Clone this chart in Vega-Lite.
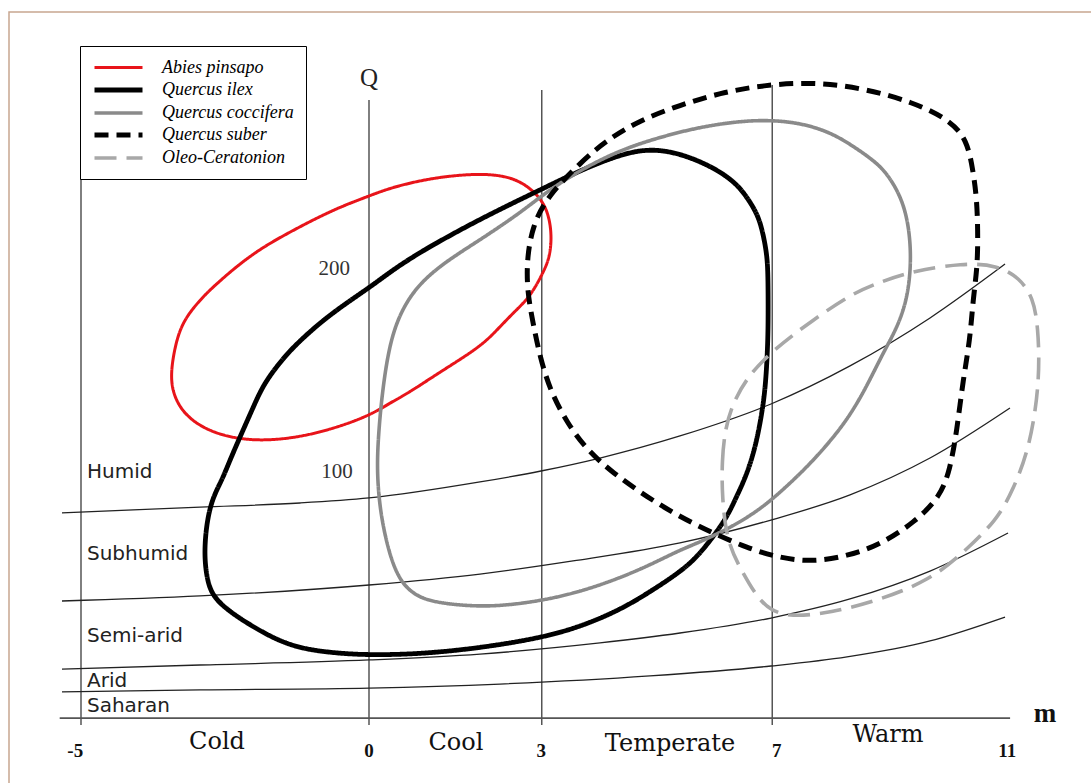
{
  "$schema": "https://vega.github.io/schema/vega-lite/v6.json",
  "width": 1091,
  "height": 783,
  "autosize": "none",
  "padding": 0,
  "background": "white",
  "config": {"view": {"stroke": null}},
  "datasets": {
    "frame": [{"m": -6.25, "m2": 13, "q": 326.2, "q2": -60}],
    "verticals": [
      {"m": -5, "q": 287.7, "q2": -25.9},
      {"m": 0, "q": 282.7, "q2": -25.9},
      {"m": 3, "q": 287.7, "q2": -25.9},
      {"m": 7, "q": 290.1, "q2": -25.9}
    ],
    "baseline": [{"m": -5.37, "m2": 11.13, "q": -22.5}],
    "zones": [
      {"zone": "humid", "m": -5.33, "q": 78.8}, {"zone": "humid", "m": -2.934, "q": 81.7}, {"zone": "humid", "m": -1.198, "q": 83.7}, {"zone": "humid", "m": 0, "q": 86.2}, {"zone": "humid", "m": 1.927, "q": 94.1}, {"zone": "humid", "m": 2.986, "q": 99.5}, {"zone": "humid", "m": 4.01, "q": 105.9}, {"zone": "humid", "m": 5.399, "q": 116.8}, {"zone": "humid", "m": 6.979, "q": 132.6}, {"zone": "humid", "m": 8.351, "q": 151.4}, {"zone": "humid", "m": 9.74, "q": 175.1}, {"zone": "humid", "m": 11.042, "q": 201.7},
      {"zone": "subhumid", "m": -5.33, "q": 35.3}, {"zone": "subhumid", "m": -2.934, "q": 37.8}, {"zone": "subhumid", "m": 0, "q": 43.2}, {"zone": "subhumid", "m": 1.927, "q": 48.6}, {"zone": "subhumid", "m": 3.542, "q": 55.1}, {"zone": "subhumid", "m": 5.399, "q": 64.0}, {"zone": "subhumid", "m": 6.979, "q": 75.3}, {"zone": "subhumid", "m": 8.351, "q": 87.7}, {"zone": "subhumid", "m": 9.74, "q": 105.9}, {"zone": "subhumid", "m": 11.128, "q": 130.6},
      {"zone": "semiarid", "m": -5.33, "q": 1.7}, {"zone": "semiarid", "m": -2.934, "q": 3.7}, {"zone": "semiarid", "m": 0, "q": 6.2}, {"zone": "semiarid", "m": 1.927, "q": 9.1}, {"zone": "semiarid", "m": 4.01, "q": 14.6}, {"zone": "semiarid", "m": 5.399, "q": 19.5}, {"zone": "semiarid", "m": 6.979, "q": 26.9}, {"zone": "semiarid", "m": 8.351, "q": 36.3}, {"zone": "semiarid", "m": 9.74, "q": 50.1}, {"zone": "semiarid", "m": 11.094, "q": 68.9},
      {"zone": "arid", "m": -5.33, "q": -9.6}, {"zone": "arid", "m": -2.934, "q": -8.6}, {"zone": "arid", "m": 0, "q": -7.7}, {"zone": "arid", "m": 2.274, "q": -5.7}, {"zone": "arid", "m": 4.878, "q": -1.7}, {"zone": "arid", "m": 6.979, "q": 3.2}, {"zone": "arid", "m": 8.299, "q": 7.7}, {"zone": "arid", "m": 9.74, "q": 15.6}, {"zone": "arid", "m": 11.042, "q": 27.4}
    ],
    "species": [
      {"sp": "Abies pinsapo", "i": 1, "m": -3.455, "q": 144.4}, {"sp": "Abies pinsapo", "i": 2, "m": -3.385, "q": 159.3}, {"sp": "Abies pinsapo", "i": 3, "m": -3.247, "q": 173.1}, {"sp": "Abies pinsapo", "i": 4, "m": -2.934, "q": 184.0}, {"sp": "Abies pinsapo", "i": 5, "m": -2.708, "q": 190.4}, {"sp": "Abies pinsapo", "i": 6, "m": -2.274, "q": 201.2}, {"sp": "Abies pinsapo", "i": 7, "m": -1.84, "q": 210.1}, {"sp": "Abies pinsapo", "i": 8, "m": -1.372, "q": 217.5}, {"sp": "Abies pinsapo", "i": 9, "m": -0.972, "q": 223.5}, {"sp": "Abies pinsapo", "i": 10, "m": -0.503, "q": 229.9}, {"sp": "Abies pinsapo", "i": 11, "m": 0, "q": 235.3}, {"sp": "Abies pinsapo", "i": 12, "m": 0.365, "q": 239.3}, {"sp": "Abies pinsapo", "i": 13, "m": 1.059, "q": 244.2}, {"sp": "Abies pinsapo", "i": 14, "m": 1.927, "q": 246.7}, {"sp": "Abies pinsapo", "i": 15, "m": 2.5, "q": 244.7}, {"sp": "Abies pinsapo", "i": 16, "m": 2.847, "q": 238.3}, {"sp": "Abies pinsapo", "i": 17, "m": 3.09, "q": 229.9}, {"sp": "Abies pinsapo", "i": 18, "m": 3.177, "q": 217.0}, {"sp": "Abies pinsapo", "i": 19, "m": 3.142, "q": 205.2}, {"sp": "Abies pinsapo", "i": 20, "m": 3.021, "q": 197.3}, {"sp": "Abies pinsapo", "i": 21, "m": 2.795, "q": 185.4}, {"sp": "Abies pinsapo", "i": 22, "m": 2.5, "q": 177.5}, {"sp": "Abies pinsapo", "i": 23, "m": 2.222, "q": 169.1}, {"sp": "Abies pinsapo", "i": 24, "m": 1.927, "q": 160.7}, {"sp": "Abies pinsapo", "i": 25, "m": 1.233, "q": 148.4}, {"sp": "Abies pinsapo", "i": 26, "m": 0.712, "q": 138.5}, {"sp": "Abies pinsapo", "i": 27, "m": 0.365, "q": 133.1}, {"sp": "Abies pinsapo", "i": 28, "m": 0, "q": 126.7}, {"sp": "Abies pinsapo", "i": 29, "m": -0.677, "q": 119.8}, {"sp": "Abies pinsapo", "i": 30, "m": -1.372, "q": 115.3}, {"sp": "Abies pinsapo", "i": 31, "m": -2.066, "q": 114.3}, {"sp": "Abies pinsapo", "i": 32, "m": -2.674, "q": 117.8}, {"sp": "Abies pinsapo", "i": 33, "m": -3.108, "q": 124.7}, {"sp": "Abies pinsapo", "i": 34, "m": -3.351, "q": 133.6},

      {"sp": "Quercus ilex", "i": 1, "m": -2.865, "q": 59.0}, {"sp": "Quercus ilex", "i": 2, "m": -2.813, "q": 75.3}, {"sp": "Quercus ilex", "i": 3, "m": -2.708, "q": 86.7}, {"sp": "Quercus ilex", "i": 4, "m": -2.552, "q": 95.1}, {"sp": "Quercus ilex", "i": 5, "m": -2.413, "q": 104.9}, {"sp": "Quercus ilex", "i": 6, "m": -2.24, "q": 116.3}, {"sp": "Quercus ilex", "i": 7, "m": -2.031, "q": 129.6}, {"sp": "Quercus ilex", "i": 8, "m": -1.84, "q": 142.0}, {"sp": "Quercus ilex", "i": 9, "m": -1.545, "q": 153.3}, {"sp": "Quercus ilex", "i": 10, "m": -1.25, "q": 162.7}, {"sp": "Quercus ilex", "i": 11, "m": -0.677, "q": 177.0}, {"sp": "Quercus ilex", "i": 12, "m": 0, "q": 189.9}, {"sp": "Quercus ilex", "i": 13, "m": 0.365, "q": 197.8}, {"sp": "Quercus ilex", "i": 14, "m": 0.885, "q": 207.7}, {"sp": "Quercus ilex", "i": 15, "m": 1.927, "q": 224.0}, {"sp": "Quercus ilex", "i": 16, "m": 2.969, "q": 238.3}, {"sp": "Quercus ilex", "i": 17, "m": 3.576, "q": 246.7}, {"sp": "Quercus ilex", "i": 18, "m": 4.236, "q": 254.6}, {"sp": "Quercus ilex", "i": 19, "m": 4.826, "q": 259.0}, {"sp": "Quercus ilex", "i": 20, "m": 5.399, "q": 256.5}, {"sp": "Quercus ilex", "i": 21, "m": 5.972, "q": 249.6}, {"sp": "Quercus ilex", "i": 22, "m": 6.354, "q": 242.2}, {"sp": "Quercus ilex", "i": 23, "m": 6.563, "q": 234.8}, {"sp": "Quercus ilex", "i": 24, "m": 6.753, "q": 225.9}, {"sp": "Quercus ilex", "i": 25, "m": 6.84, "q": 217.0}, {"sp": "Quercus ilex", "i": 26, "m": 6.91, "q": 206.2}, {"sp": "Quercus ilex", "i": 27, "m": 6.927, "q": 196.3}, {"sp": "Quercus ilex", "i": 28, "m": 6.93, "q": 180.2}, {"sp": "Quercus ilex", "i": 29, "m": 6.927, "q": 164.2}, {"sp": "Quercus ilex", "i": 30, "m": 6.892, "q": 144.4}, {"sp": "Quercus ilex", "i": 31, "m": 6.84, "q": 131.1}, {"sp": "Quercus ilex", "i": 32, "m": 6.736, "q": 114.8}, {"sp": "Quercus ilex", "i": 33, "m": 6.615, "q": 102.5}, {"sp": "Quercus ilex", "i": 34, "m": 6.493, "q": 93.6}, {"sp": "Quercus ilex", "i": 35, "m": 6.354, "q": 85.2}, {"sp": "Quercus ilex", "i": 36, "m": 6.215, "q": 76.8}, {"sp": "Quercus ilex", "i": 37, "m": 5.972, "q": 66.9}, {"sp": "Quercus ilex", "i": 38, "m": 5.694, "q": 57.0}, {"sp": "Quercus ilex", "i": 39, "m": 5.399, "q": 49.6}, {"sp": "Quercus ilex", "i": 40, "m": 4.878, "q": 39.8}, {"sp": "Quercus ilex", "i": 41, "m": 4.358, "q": 30.9}, {"sp": "Quercus ilex", "i": 42, "m": 3.663, "q": 22.5}, {"sp": "Quercus ilex", "i": 43, "m": 2.969, "q": 17.0}, {"sp": "Quercus ilex", "i": 44, "m": 1.927, "q": 12.1}, {"sp": "Quercus ilex", "i": 45, "m": 0.885, "q": 9.1}, {"sp": "Quercus ilex", "i": 46, "m": 0, "q": 8.6}, {"sp": "Quercus ilex", "i": 47, "m": -0.625, "q": 9.6}, {"sp": "Quercus ilex", "i": 48, "m": -1.372, "q": 12.6}, {"sp": "Quercus ilex", "i": 49, "m": -2.014, "q": 22.5}, {"sp": "Quercus ilex", "i": 50, "m": -2.413, "q": 29.9}, {"sp": "Quercus ilex", "i": 51, "m": -2.708, "q": 37.3}, {"sp": "Quercus ilex", "i": 52, "m": -2.813, "q": 45.7},

      {"sp": "Quercus coccifera", "i": 1, "m": 0.139, "q": 98.5}, {"sp": "Quercus coccifera", "i": 2, "m": 0.156, "q": 114.8}, {"sp": "Quercus coccifera", "i": 3, "m": 0.226, "q": 138.0}, {"sp": "Quercus coccifera", "i": 4, "m": 0.365, "q": 164.2}, {"sp": "Quercus coccifera", "i": 5, "m": 0.59, "q": 180.5}, {"sp": "Quercus coccifera", "i": 6, "m": 0.885, "q": 192.3}, {"sp": "Quercus coccifera", "i": 7, "m": 1.319, "q": 202.7}, {"sp": "Quercus coccifera", "i": 8, "m": 1.927, "q": 213.6}, {"sp": "Quercus coccifera", "i": 9, "m": 2.622, "q": 226.9}, {"sp": "Quercus coccifera", "i": 10, "m": 3.056, "q": 236.8}, {"sp": "Quercus coccifera", "i": 11, "m": 3.663, "q": 248.1}, {"sp": "Quercus coccifera", "i": 12, "m": 4.358, "q": 258.0}, {"sp": "Quercus coccifera", "i": 13, "m": 5.052, "q": 264.4}, {"sp": "Quercus coccifera", "i": 14, "m": 5.747, "q": 269.4}, {"sp": "Quercus coccifera", "i": 15, "m": 6.441, "q": 272.3}, {"sp": "Quercus coccifera", "i": 16, "m": 6.962, "q": 272.8}, {"sp": "Quercus coccifera", "i": 17, "m": 7.483, "q": 271.4}, {"sp": "Quercus coccifera", "i": 18, "m": 8.003, "q": 266.9}, {"sp": "Quercus coccifera", "i": 19, "m": 8.403, "q": 260.0}, {"sp": "Quercus coccifera", "i": 20, "m": 8.75, "q": 253.1}, {"sp": "Quercus coccifera", "i": 21, "m": 8.993, "q": 246.7}, {"sp": "Quercus coccifera", "i": 22, "m": 9.271, "q": 233.3}, {"sp": "Quercus coccifera", "i": 23, "m": 9.392, "q": 217.0}, {"sp": "Quercus coccifera", "i": 24, "m": 9.41, "q": 200.2}, {"sp": "Quercus coccifera", "i": 25, "m": 9.34, "q": 184.0}, {"sp": "Quercus coccifera", "i": 26, "m": 9.167, "q": 170.1}, {"sp": "Quercus coccifera", "i": 27, "m": 8.924, "q": 157.8}, {"sp": "Quercus coccifera", "i": 28, "m": 8.611, "q": 139.5}, {"sp": "Quercus coccifera", "i": 29, "m": 8.299, "q": 124.7}, {"sp": "Quercus coccifera", "i": 30, "m": 7.951, "q": 112.3}, {"sp": "Quercus coccifera", "i": 31, "m": 7.604, "q": 101.5}, {"sp": "Quercus coccifera", "i": 32, "m": 7.222, "q": 91.1}, {"sp": "Quercus coccifera", "i": 33, "m": 6.84, "q": 81.7}, {"sp": "Quercus coccifera", "i": 34, "m": 6.441, "q": 74.3}, {"sp": "Quercus coccifera", "i": 35, "m": 6.146, "q": 69.9}, {"sp": "Quercus coccifera", "i": 36, "m": 5.747, "q": 64.4}, {"sp": "Quercus coccifera", "i": 37, "m": 5.399, "q": 60.5}, {"sp": "Quercus coccifera", "i": 38, "m": 4.878, "q": 53.1}, {"sp": "Quercus coccifera", "i": 39, "m": 4.358, "q": 46.7}, {"sp": "Quercus coccifera", "i": 40, "m": 3.663, "q": 39.8}, {"sp": "Quercus coccifera", "i": 41, "m": 2.969, "q": 35.3}, {"sp": "Quercus coccifera", "i": 42, "m": 2.274, "q": 32.8}, {"sp": "Quercus coccifera", "i": 43, "m": 1.753, "q": 32.8}, {"sp": "Quercus coccifera", "i": 44, "m": 1.233, "q": 34.3}, {"sp": "Quercus coccifera", "i": 45, "m": 0.885, "q": 36.8}, {"sp": "Quercus coccifera", "i": 46, "m": 0.625, "q": 42.2}, {"sp": "Quercus coccifera", "i": 47, "m": 0.451, "q": 50.6}, {"sp": "Quercus coccifera", "i": 48, "m": 0.3125, "q": 63.0}, {"sp": "Quercus coccifera", "i": 49, "m": 0.191, "q": 80.2},

      {"sp": "Quercus suber", "i": 1, "m": 3.09, "q": 234.8}, {"sp": "Quercus suber", "i": 2, "m": 3.663, "q": 251.6}, {"sp": "Quercus suber", "i": 3, "m": 4.132, "q": 263.0}, {"sp": "Quercus suber", "i": 4, "m": 4.705, "q": 272.8}, {"sp": "Quercus suber", "i": 5, "m": 5.399, "q": 280.2}, {"sp": "Quercus suber", "i": 6, "m": 6.094, "q": 286.2}, {"sp": "Quercus suber", "i": 7, "m": 6.84, "q": 290.1}, {"sp": "Quercus suber", "i": 8, "m": 7.708, "q": 291.6}, {"sp": "Quercus suber", "i": 9, "m": 8.576, "q": 288.6}, {"sp": "Quercus suber", "i": 10, "m": 9.444, "q": 281.7}, {"sp": "Quercus suber", "i": 11, "m": 10.087, "q": 272.8}, {"sp": "Quercus suber", "i": 12, "m": 10.382, "q": 263.0}, {"sp": "Quercus suber", "i": 13, "m": 10.486, "q": 248.1}, {"sp": "Quercus suber", "i": 14, "m": 10.556, "q": 233.3}, {"sp": "Quercus suber", "i": 15, "m": 10.573, "q": 213.6}, {"sp": "Quercus suber", "i": 16, "m": 10.556, "q": 198.8}, {"sp": "Quercus suber", "i": 17, "m": 10.486, "q": 184.0}, {"sp": "Quercus suber", "i": 18, "m": 10.434, "q": 164.2}, {"sp": "Quercus suber", "i": 19, "m": 10.313, "q": 144.4}, {"sp": "Quercus suber", "i": 20, "m": 10.208, "q": 119.8}, {"sp": "Quercus suber", "i": 21, "m": 10.087, "q": 100.0}, {"sp": "Quercus suber", "i": 22, "m": 9.913, "q": 86.7}, {"sp": "Quercus suber", "i": 23, "m": 9.479, "q": 74.3}, {"sp": "Quercus suber", "i": 24, "m": 8.872, "q": 63.0}, {"sp": "Quercus suber", "i": 25, "m": 8.299, "q": 57.5}, {"sp": "Quercus suber", "i": 26, "m": 7.708, "q": 54.6}, {"sp": "Quercus suber", "i": 27, "m": 7.135, "q": 56.5}, {"sp": "Quercus suber", "i": 28, "m": 6.563, "q": 61.5}, {"sp": "Quercus suber", "i": 29, "m": 5.972, "q": 68.9}, {"sp": "Quercus suber", "i": 30, "m": 5.399, "q": 76.8}, {"sp": "Quercus suber", "i": 31, "m": 4.826, "q": 86.7}, {"sp": "Quercus suber", "i": 32, "m": 4.236, "q": 98.5}, {"sp": "Quercus suber", "i": 33, "m": 3.785, "q": 109.9}, {"sp": "Quercus suber", "i": 34, "m": 3.438, "q": 123.2}, {"sp": "Quercus suber", "i": 35, "m": 3.142, "q": 139.5}, {"sp": "Quercus suber", "i": 36, "m": 2.969, "q": 155.8}, {"sp": "Quercus suber", "i": 37, "m": 2.847, "q": 172.6}, {"sp": "Quercus suber", "i": 38, "m": 2.743, "q": 188.9}, {"sp": "Quercus suber", "i": 39, "m": 2.743, "q": 205.2}, {"sp": "Quercus suber", "i": 40, "m": 2.847, "q": 221.0},

      {"sp": "Oleo-Ceratonion", "i": 1, "m": 6.128, "q": 86.7}, {"sp": "Oleo-Ceratonion", "i": 2, "m": 6.128, "q": 104.9}, {"sp": "Oleo-Ceratonion", "i": 3, "m": 6.181, "q": 119.8}, {"sp": "Oleo-Ceratonion", "i": 4, "m": 6.302, "q": 132.1}, {"sp": "Oleo-Ceratonion", "i": 5, "m": 6.563, "q": 145.9}, {"sp": "Oleo-Ceratonion", "i": 6, "m": 7.014, "q": 159.3}, {"sp": "Oleo-Ceratonion", "i": 7, "m": 7.708, "q": 174.1}, {"sp": "Oleo-Ceratonion", "i": 8, "m": 8.403, "q": 187.4}, {"sp": "Oleo-Ceratonion", "i": 9, "m": 8.872, "q": 192.8}, {"sp": "Oleo-Ceratonion", "i": 10, "m": 9.444, "q": 198.3}, {"sp": "Oleo-Ceratonion", "i": 11, "m": 10.313, "q": 202.2}, {"sp": "Oleo-Ceratonion", "i": 12, "m": 10.903, "q": 201.2}, {"sp": "Oleo-Ceratonion", "i": 13, "m": 11.302, "q": 194.8}, {"sp": "Oleo-Ceratonion", "i": 14, "m": 11.528, "q": 184.9}, {"sp": "Oleo-Ceratonion", "i": 15, "m": 11.615, "q": 171.6}, {"sp": "Oleo-Ceratonion", "i": 16, "m": 11.649, "q": 144.4}, {"sp": "Oleo-Ceratonion", "i": 17, "m": 11.476, "q": 111.4}, {"sp": "Oleo-Ceratonion", "i": 18, "m": 11.181, "q": 90.1}, {"sp": "Oleo-Ceratonion", "i": 19, "m": 10.903, "q": 75.3}, {"sp": "Oleo-Ceratonion", "i": 20, "m": 10.313, "q": 59.0}, {"sp": "Oleo-Ceratonion", "i": 21, "m": 9.74, "q": 45.7}, {"sp": "Oleo-Ceratonion", "i": 22, "m": 8.872, "q": 35.8}, {"sp": "Oleo-Ceratonion", "i": 23, "m": 8.003, "q": 29.4}, {"sp": "Oleo-Ceratonion", "i": 24, "m": 7.309, "q": 27.4}, {"sp": "Oleo-Ceratonion", "i": 25, "m": 6.962, "q": 30.9}, {"sp": "Oleo-Ceratonion", "i": 26, "m": 6.736, "q": 37.3}, {"sp": "Oleo-Ceratonion", "i": 27, "m": 6.493, "q": 49.1}, {"sp": "Oleo-Ceratonion", "i": 28, "m": 6.215, "q": 64.0}
    ],
    "zoneLabels": [
      {"t": "Humid", "m": -4.896, "q": 96.0},
      {"t": "Subhumid", "m": -4.896, "q": 55.6},
      {"t": "Semi-arid", "m": -4.896, "q": 15.1},
      {"t": "Arid", "m": -4.896, "q": -7.2},
      {"t": "Saharan", "m": -4.896, "q": -19.5}
    ],
    "qLabels": [
      {"t": "100", "m": -0.28, "q": 96.0},
      {"t": "200", "m": -0.33, "q": 196.3}
    ],
    "mLabels": [
      {"t": "-5", "m": -5.1, "q": -41.7},
      {"t": "0", "m": 0, "q": -41.7},
      {"t": "3", "m": 2.99, "q": -41.7},
      {"t": "7", "m": 7.08, "q": -41.7},
      {"t": "11", "m": 11.08, "q": -41.7}
    ],
    "thermal": [
      {"t": "Cold", "m": -2.639, "q": -37.8},
      {"t": "Cool", "m": 1.51, "q": -38.3},
      {"t": "Temperate", "m": 5.226, "q": -38.8},
      {"t": "Warm", "m": 9.01, "q": -34.3}
    ],
    "qName": [{"t": "Q", "m": 0, "q": 289.6}],
    "mName": [{"t": "m", "m": 11.736, "q": -24.4}]
  },
  "encoding": {
    "x": {"field": "m", "type": "quantitative", "scale": {"domain": [-6.40625, 12.53472], "nice": false, "zero": false}, "axis": null},
    "y": {"field": "q", "type": "quantitative", "scale": {"domain": [-54.57, 332.1], "nice": false, "zero": false}, "axis": null}
  },
  "layer": [
    {
      "data": {"name": "frame"},
      "mark": {"type": "rect", "fill": null, "fillOpacity": 0, "stroke": "#c8a690", "strokeWidth": 1.5},
      "encoding": {"x2": {"field": "m2"}, "y2": {"field": "q2"}}
    },
    {
      "data": {"name": "verticals"},
      "mark": {"type": "rule", "color": "#2b2b2b", "strokeWidth": 1.2},
      "encoding": {"y2": {"field": "q2"}}
    },
    {
      "data": {"name": "baseline"},
      "mark": {"type": "rule", "color": "#555555", "strokeWidth": 1.8},
      "encoding": {"x2": {"field": "m2"}}
    },
    {
      "data": {"name": "zones"},
      "mark": {"type": "line", "interpolate": "monotone", "color": "#222222", "strokeWidth": 1.3},
      "encoding": {"detail": {"field": "zone", "type": "nominal"}}
    },
    {
      "data": {"name": "species"},
      "mark": {"type": "line", "interpolate": "basis-closed", "strokeCap": "butt", "strokeJoin": "round"},
      "encoding": {
        "order": {"field": "i", "type": "quantitative"},
        "color": {
          "field": "sp", "type": "nominal",
          "scale": {"domain": ["Abies pinsapo", "Quercus ilex", "Quercus coccifera", "Quercus suber", "Oleo-Ceratonion"], "range": ["#e8141a", "#000000", "#8a8a8a", "#000000", "#a8a8a8"]},
          "legend": {"title": null, "orient": "none", "legendX": 80, "legendY": 46, "symbolType": "M-1,0H5", "symbolSize": 256, "labelFont": "Liberation Serif", "labelFontStyle": "italic", "labelFontSize": 18, "labelColor": "#000000", "labelOffset": 49, "labelLimit": 300, "padding": 12, "rowPadding": 2.5, "strokeColor": "#000000", "fillColor": "#ffffff"}
        },
        "strokeDash": {
          "field": "sp", "type": "nominal",
          "scale": {"domain": ["Abies pinsapo", "Quercus ilex", "Quercus coccifera", "Quercus suber", "Oleo-Ceratonion"], "range": [[1, 0], [1, 0], [1, 0], [14, 8], [22, 10]]},
          "legend": {"title": null, "orient": "none", "legendX": 80, "legendY": 46, "symbolType": "M-1,0H5", "symbolSize": 256, "labelFont": "Liberation Serif", "labelFontStyle": "italic", "labelFontSize": 18, "labelColor": "#000000", "labelOffset": 49, "labelLimit": 300, "padding": 12, "rowPadding": 2.5, "strokeColor": "#000000", "fillColor": "#ffffff"}
        },
        "strokeWidth": {
          "field": "sp", "type": "nominal",
          "scale": {"type": "ordinal", "domain": ["Abies pinsapo", "Quercus ilex", "Quercus coccifera", "Quercus suber", "Oleo-Ceratonion"], "range": [3, 4.8, 3.6, 5, 3.6]},
          "legend": {"title": null, "orient": "none", "legendX": 80, "legendY": 46, "symbolType": "M-1,0H5", "symbolSize": 256, "labelFont": "Liberation Serif", "labelFontStyle": "italic", "labelFontSize": 18, "labelColor": "#000000", "labelOffset": 49, "labelLimit": 300, "padding": 12, "rowPadding": 2.5, "strokeColor": "#000000", "fillColor": "#ffffff"}
        }
      }
    },
    {
      "data": {"name": "zoneLabels"},
      "mark": {"type": "text", "align": "left", "baseline": "alphabetic", "font": "DejaVu Sans", "fontSize": 20, "color": "#222222"},
      "encoding": {"text": {"field": "t"}}
    },
    {
      "data": {"name": "qLabels"},
      "mark": {"type": "text", "align": "right", "baseline": "alphabetic", "font": "Liberation Serif", "fontSize": 21, "color": "#333333"},
      "encoding": {"text": {"field": "t"}}
    },
    {
      "data": {"name": "mLabels"},
      "mark": {"type": "text", "align": "center", "baseline": "alphabetic", "font": "Liberation Serif", "fontSize": 19, "fontWeight": "bold", "color": "#111111"},
      "encoding": {"text": {"field": "t"}}
    },
    {
      "data": {"name": "thermal"},
      "mark": {"type": "text", "align": "center", "baseline": "alphabetic", "font": "DejaVu Serif", "fontSize": 24, "color": "#111111"},
      "encoding": {"text": {"field": "t"}}
    },
    {
      "data": {"name": "qName"},
      "mark": {"type": "text", "align": "center", "baseline": "alphabetic", "font": "Liberation Serif", "fontSize": 25, "color": "#222222"},
      "encoding": {"text": {"field": "t"}}
    },
    {
      "data": {"name": "mName"},
      "mark": {"type": "text", "align": "center", "baseline": "alphabetic", "font": "Liberation Serif", "fontSize": 27, "fontWeight": "bold", "color": "#111111"},
      "encoding": {"text": {"field": "t"}}
    }
  ]
}
